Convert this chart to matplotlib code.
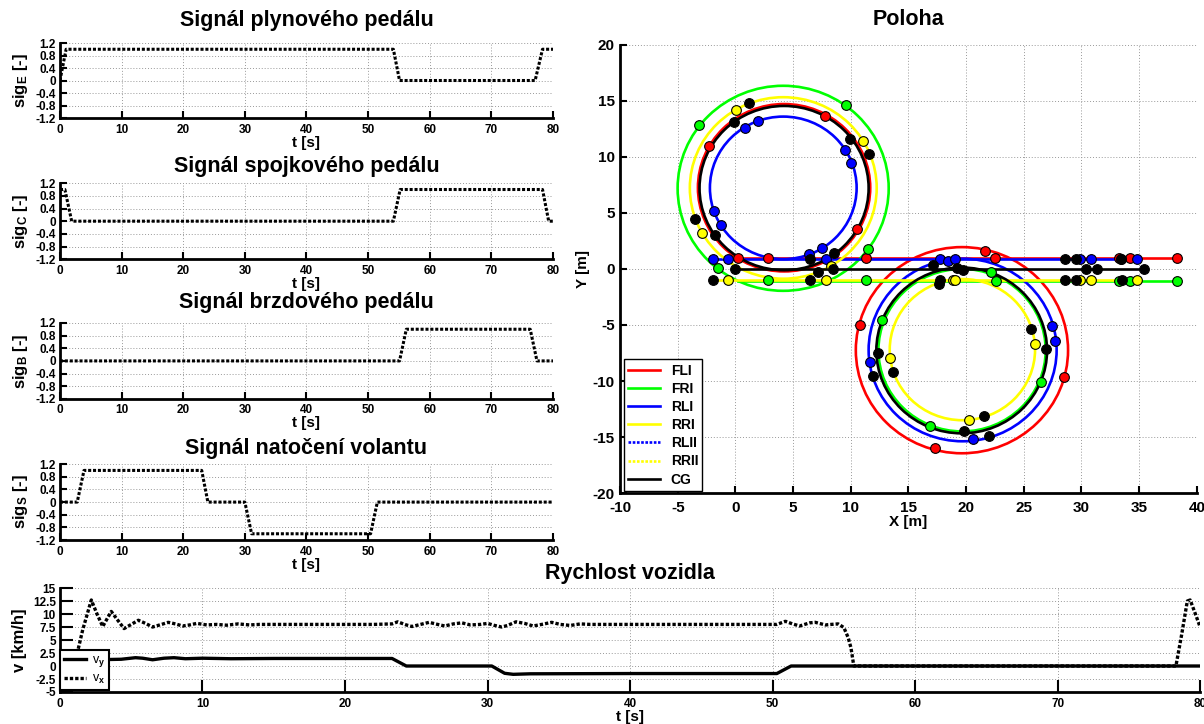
import matplotlib
matplotlib.use("Agg")
import matplotlib.pyplot as plt
from matplotlib.patches import Circle

plt.rcParams['font.family'] = ['Liberation Sans', 'DejaVu Sans']
plt.rcParams['font.weight'] = 'bold'
plt.rcParams['axes.unicode_minus'] = False
plt.rcParams['mathtext.fontset'] = 'custom'
plt.rcParams['mathtext.rm'] = 'Liberation Sans'
plt.rcParams['mathtext.bf'] = 'Liberation Sans:bold'
plt.rcParams['mathtext.it'] = 'Liberation Sans:italic'

# pedal / steering signals
t_E = [0, 1.0, 54.1, 55.1, 77.1, 78.3, 80]
sig_E = [0, 1, 1, 0, 0, 1, 1]
t_C = [0, 0.8, 1.9, 54.1, 55.2, 78.3, 79.3, 80]
sig_C = [1, 1, 0, 0, 1, 1, 0, 0]
t_B = [0, 55.1, 56.2, 76.3, 77.4, 80]
sig_B = [0, 0, 1, 1, 0, 0]
t_S = [0, 2.8, 3.9, 23.0, 24.0, 30.0, 31.1, 50.4, 51.5, 80]
sig_S = [0, 0, 1, 1, 0, 0, -1, -1, 0, 0]

# vehicle speed
t_vx = [0, 1.0, 1.6, 2.2, 2.6, 3.0, 3.6, 4.0, 4.5, 5.0, 5.5, 6.0, 6.5, 7.0, 7.6, 8.1, 8.6,
        9.1, 9.6, 10.3, 11.0, 11.7, 12.5, 13.3, 14.0, 16.0, 18.0, 20.0, 22.0, 23.3, 23.7,
        24.3, 24.7, 25.3, 25.9, 26.5, 27.0, 27.6, 28.2, 28.8, 29.5, 30.0, 30.5, 31.0, 31.4,
        32.0, 32.6, 33.2, 33.8, 34.5, 35.1, 35.8, 36.5, 37.2, 38.0, 40.0, 45.0, 50.3, 50.9,
        51.4, 51.9, 52.6, 53.0, 53.7, 54.1, 54.6, 55.0, 55.3, 55.5, 55.7, 78.3, 78.7, 79.1,
        79.3, 79.6, 80.0]
vx = [0, 0, 7.0, 12.7, 10.0, 7.6, 10.5, 9.0, 7.2, 8.0, 8.8, 8.2, 7.5, 7.9, 8.4, 8.1, 7.7,
      7.9, 8.2, 7.9, 8.0, 7.85, 8.1, 7.9, 8.0, 8.0, 8.0, 8.0, 8.0, 8.1, 8.5,
      7.9, 7.6, 8.0, 8.4, 8.0, 7.7, 8.1, 8.3, 7.9, 8.0, 8.2, 7.8, 7.5, 7.8,
      8.5, 8.2, 7.7, 8.0, 8.4, 8.0, 7.8, 8.1, 8.0, 8.0, 8.0, 8.0, 8.0, 8.6,
      8.1, 7.7, 8.3, 8.4, 7.9, 8.0, 8.1, 7.4, 5.5, 3.5, 0, 0, 6.0, 12.5,
      12.7, 10.5, 7.5]
t_vy = [0, 1.0, 2.5, 4.3, 5.3, 5.8, 6.5, 7.3, 8.0, 8.8, 10.0, 12.0, 15.0, 20.0, 23.3, 24.3,
        30.3, 31.2, 31.8, 33.0, 40.0, 45.0, 50.3, 51.3, 80.0]
vy = [0, 0, 1.2, 1.3, 1.6, 1.5, 1.2, 1.5, 1.6, 1.4, 1.5, 1.4, 1.45, 1.45, 1.45, 0,
      0, -1.4, -1.6, -1.5, -1.45, -1.45, -1.45, 0, 0]

# position plot: wheel / CG tracks
names = ['FLI', 'FRI', 'RLI', 'RRI', 'CG']
colors = ['red', 'lime', 'blue', 'yellow', 'black']
line_y = [1.0, -1.05, 0.9, -0.95, 0.0]
line_x0 = [0.2, 0.2, -1.95, -2.1, -0.05]
line_x1 = [38.26, 38.26, 34.8, 34.9, 35.42]
loop1_cx = [4.22, 4.14, 4.15, 4.15, 4.22]
loop1_cy = [7.25, 7.2, 7.24, 7.23, 7.22]
loop1_r = [7.47, 9.15, 6.36, 8.1, 7.33]
loop2_cx = [19.64, 19.65, 19.7, 19.68, 19.62]
loop2_cy = [-7.25, -7.25, -7.23, -7.2, -7.27]
loop2_r = [9.2, 7.25, 8.15, 6.3, 7.4]

mk_red_x = [-2.3, 7.81, 10.52, 11.3, 2.82, 0.23, 21.68, 22.52, 10.78, 17.3, 28.46, 33.28, 34.2, 38.26]
mk_red_y = [11.0, 13.69, 3.57, 0.97, 0.97, 0.95, 1.63, 0.95, -5.03, -15.97, -9.61, 1.0, 1.0, 1.0]
mk_green_x = [-3.15, 9.62, 11.47, -1.54, 2.82, 11.3, 22.2, 22.55, 12.7, 16.9, 26.46, 33.25, 34.2, 38.26]
mk_green_y = [12.83, 14.6, 1.79, 0.06, -1.0, -1.0, -0.3, -1.09, -4.59, -14.05, -10.06, -1.05, -1.05, -1.05]
mk_blue_x = [0.81, 2.0, 9.47, 10.05, -1.84, -1.26, 6.39, 7.55, 7.87, -0.64, -1.95, 17.77, 18.4, 19.07,
             11.65, 20.64, 27.68, 27.45, 29.86, 30.87, 33.4, 34.78]
mk_blue_y = [12.62, 13.18, 10.65, 9.46, 5.21, 3.96, 1.34, 1.9, 0.89, 0.9, 0.9, 0.9, 0.68, 0.9,
             -8.34, -15.14, -6.39, -5.09, 0.9, 0.9, 0.9, 0.9]
mk_yellow_x = [0.03, 11.06, -2.91, 8.3, -0.64, 7.87, 18.9, 19.07, 13.39, 20.29, 25.94, 29.86, 30.87, 34.78]
mk_yellow_y = [14.22, 11.46, 3.24, 0.3, -0.95, -0.95, -0.95, -0.95, -7.99, -13.46, -6.71, -0.95, -0.95, -0.95]
mk_black_x = [1.21, -0.12, 9.93, 11.62, -3.46, -1.8, 6.5, 8.51, -0.03, 7.14, 8.45, -1.95, 6.5, 17.16,
              19.22, 19.71, 17.77, 17.68, 12.38, 13.68, 11.97, 19.86, 21.97, 21.57, 26.96, 25.65,
              28.61, 29.53, 33.43, 30.43, 31.39, 35.42, 28.6, 29.53, 33.48]
mk_black_y = [14.82, 13.15, 11.6, 10.24, 4.43, 3.04, 0.9, 1.43, 0.0, -0.27, 0.0, -0.95, -0.95, 0.38,
              0.06, -0.06, -0.95, -1.33, -7.54, -9.17, -9.55, -14.43, -14.94, -13.16, -7.16, -5.38,
              0.9, 0.9, 0.9, 0.0, 0.0, 0.0, -0.95, -0.95, -0.95]


def style(ax, fs, ticklen=5, xpad=4, ypad=3):
    ax.spines['top'].set_visible(False)
    ax.spines['right'].set_visible(False)
    ax.spines['left'].set_linewidth(2)
    ax.spines['bottom'].set_linewidth(2)
    ax.tick_params(direction='in', length=ticklen, width=1.5, labelsize=fs)
    ax.tick_params(axis='x', pad=xpad)
    ax.tick_params(axis='y', pad=ypad)
    ax.grid(True, linestyle=(0, (1, 2)), color='0.6', linewidth=0.7)
    ax.set_axisbelow(True)


fig = plt.figure(figsize=(12.04, 7.24), dpi=100)

sig_axes = [
    ([0.0498, 0.837, 0.4095, 0.1036], t_E, sig_E, 'Signál plynového pedálu', r'sig$_\mathbf{E}$ [-]', 12),
    ([0.0498, 0.642, 0.4095, 0.105], t_C, sig_C, 'Signál spojkového pedálu', r'sig$_\mathbf{C}$ [-]', 8),
    ([0.0498, 0.449, 0.4095, 0.105], t_B, sig_B, 'Signál brzdového pedálu', r'sig$_\mathbf{B}$ [-]', 11),
    ([0.0498, 0.254, 0.4095, 0.105], t_S, sig_S, 'Signál natočení volantu', r'sig$_\mathbf{S}$ [-]', 7),
]
yt = [-1.2, -0.8, -0.4, 0, 0.4, 0.8, 1.2]
for rect, t, s, title, ylab, tpad in sig_axes:
    ax = fig.add_axes(rect)
    ax.plot(t, s, color='black', linewidth=2.2, linestyle=(0, (1, 0.6)))
    ax.set_xlim(0, 80)
    ax.set_ylim(-1.2, 1.2)
    ax.set_xticks(range(0, 81, 10))
    ax.set_yticks(yt)
    ax.set_yticklabels(['-1.2', '-0.8', '-0.4', '0', '0.4', '0.8', '1.2'])
    style(ax, 8.5)
    ax.set_title(title, fontsize=15.5, fontweight='bold', pad=tpad)
    ax.set_xlabel('t [s]', fontsize=11, fontweight='bold', labelpad=0)
    ax.set_ylabel(ylab, fontsize=12, fontweight='bold', labelpad=4)

# speed
axv = fig.add_axes([0.0498, 0.0442, 0.947, 0.1436])
axv.plot(t_vy, vy, color='black', linewidth=2.4, label=r'v$_\mathrm{y}$')
axv.plot(t_vx, vx, color='black', linewidth=2.4, linestyle=(0, (1, 0.6)), label=r'v$_\mathrm{x}$')
axv.set_xlim(0, 80)
axv.set_ylim(-5, 15)
axv.set_xticks(range(0, 81, 10))
axv.set_yticks([-5, -2.5, 0, 2.5, 5, 7.5, 10, 12.5, 15])
axv.set_yticklabels(['-5', '-2.5', '0', '2.5', '5', '7.5', '10', '12.5', '15'])
style(axv, 8.5, ticklen=9)
axv.set_title('Rychlost vozidla', fontsize=15.5, fontweight='bold', pad=6.5)
axv.set_xlabel('t [s]', fontsize=11, fontweight='bold', labelpad=0)
axv.set_ylabel('v [km/h]', fontsize=12, fontweight='bold', labelpad=4)
lg = axv.legend(loc='lower left', bbox_to_anchor=(0.0, 0.02), borderaxespad=0,
                prop={'size': 9, 'weight': 'normal'}, fancybox=False, edgecolor='black',
                framealpha=1, handlelength=1.8, handletextpad=0.5, borderpad=0.3,
                labelspacing=0.3)
lg.get_frame().set_linewidth(1.5)

# position
axp = fig.add_axes([0.515, 0.319, 0.479, 0.619])
handles = {}
for i in range(len(names)):
    h, = axp.plot([line_x0[i], line_x1[i]], [line_y[i], line_y[i]], color=colors[i],
                  linewidth=1.9, label=names[i], zorder=2 + i * 0.1)
    handles[names[i]] = h
    for cx, cy, r in ((loop1_cx[i], loop1_cy[i], loop1_r[i]), (loop2_cx[i], loop2_cy[i], loop2_r[i])):
        axp.add_patch(Circle((cx, cy), r, fill=False, edgecolor=colors[i], linewidth=1.9,
                             zorder=2 + i * 0.1))
h_rl2, = axp.plot([], [], color='blue', linewidth=1.9, linestyle=(0, (1, 0.6)), label='RLII')
h_rr2, = axp.plot([], [], color='yellow', linewidth=1.9, linestyle=(0, (1, 0.6)), label='RRII')

for xs, ys, c in ((mk_red_x, mk_red_y, 'red'), (mk_green_x, mk_green_y, 'lime'),
                  (mk_blue_x, mk_blue_y, 'blue'), (mk_yellow_x, mk_yellow_y, 'yellow'),
                  (mk_black_x, mk_black_y, 'black')):
    axp.plot(xs, ys, linestyle='none', marker='o', markersize=7, markerfacecolor=c,
             markeredgecolor='black', markeredgewidth=0.8, zorder=5)

axp.set_xlim(-10, 40)
axp.set_ylim(-20, 20)
axp.set_xticks(range(-10, 41, 5))
axp.set_yticks(range(-20, 21, 5))
style(axp, 11, xpad=6, ypad=4)
axp.set_title('Poloha', fontsize=15.5, fontweight='bold', pad=14)
axp.set_xlabel('X [m]', fontsize=11, fontweight='bold', labelpad=0)
axp.set_ylabel('Y [m]', fontsize=11, fontweight='bold', labelpad=2)
order = [handles['FLI'], handles['FRI'], handles['RLI'], handles['RRI'], h_rl2, h_rr2, handles['CG']]
lp = axp.legend(order, [h.get_label() for h in order], loc='lower left',
                bbox_to_anchor=(0.006, 0.005), borderaxespad=0,
                prop={'size': 10, 'weight': 'bold'}, fancybox=False, edgecolor='black',
                framealpha=1, handlelength=2.3, borderpad=0.3, labelspacing=0.3)
lp.get_frame().set_linewidth(1.0)
lp.set_zorder(10)

fig.savefig('out.png', dpi=100)
